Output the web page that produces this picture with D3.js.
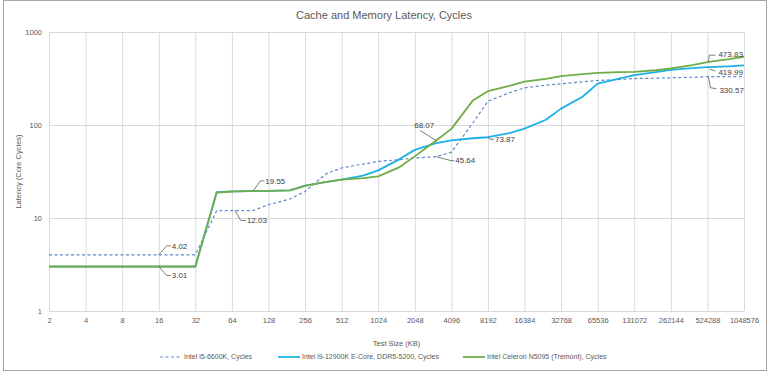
<!DOCTYPE html>
<html>
<head>
<meta charset="utf-8">
<script src="https://cdn.jsdelivr.net/npm/d3@7"></script>
<style>
  body { margin: 0; background: #fff; }
  svg { font-family: "Liberation Sans", Arial, sans-serif; }
</style>
</head>
<body>
<div class="chart"></div>
<script>
// test sizes in KB
const sizes = [2,4,8,12,16,24,32,48,64,96,128,192,256,384,512,768,1024,1536,2048,3072,4096,6144,8192,12288,16384,24576,32768,49152,65536,98304,131072,196608,262144,393216,524288,786432,1048576]

const i5 = [4.02,4.02,4.02,4.02,4.02,4.02,4.02,12.0,12.03,12.03,13.9,16,19.3,30,34.5,38,40.6,42.4,44.2,45.64,51,105,180,222,251,268,277,291,301,308,316,319,322,326,330.57,331,332]
const i9e = [3,3,3,3,3,3,3,19,19.3,19.5,19.6,19.8,22.3,24.5,25.9,28.5,32.5,43,54,64,68.4,72,73.87,82,91.5,114,150,201,279,316,343,370,392,408,419.99,428,437]
const tremont = [3.01,3.01,3.01,3.01,3.01,3.01,3.01,18.8,19.2,19.55,19.6,19.8,22.2,24.4,25.8,26.9,28,35.3,46,68.07,90.8,183,231,263,292,314,335,352,364,370,373,388,405,440,473.83,510,542]

const seriesNames = ["Intel i5-6600K, Cycles", "Intel i9-12900K E-Core, DDR5-5200, Cycles", "Intel Celeron N5095 (Tremont), Cycles"]
const xTicks = [2,4,8,16,32,64,128,256,512,1024,2048,4096,8192,16384,32768,65536,131072,262144,524288,1048576]
const yTicks = [1,10,100,1000]

const W = 768, H = 371
const margin = {left: 49, right: 744, top: 32, bottom: 311}

const svg = d3.select(".chart").append("svg")
  .attr("width", W)
  .attr("height", H)

svg.append("rect")
  .attr("x", 3.5).attr("y", 0.5)
  .attr("width", W - 5).attr("height", H - 1)
  .attr("fill", "#fff")
  .attr("stroke", "#a6a6a6")

let xScale = d3.scaleLog().base(2).domain([2, 1048576]).range([margin.left, margin.right])
let yScale = d3.scaleLog().domain([1, 1000]).range([margin.bottom, margin.top])

let xAxis = d3.axisBottom(xScale)
  .tickValues(xTicks)
  .tickFormat(d3.format("d"))
  .tickSize(-(margin.bottom - margin.top))
  .tickPadding(7)
let yAxis = d3.axisLeft(yScale)
  .tickValues(yTicks)
  .tickFormat(d3.format("d"))
  .tickSize(-(margin.right - margin.left))
  .tickPadding(7)

svg.append("g")
  .attr("transform", `translate(0,${margin.bottom})`)
  .call(xAxis)
  .call(g => g.select(".domain").remove())
  .call(g => g.selectAll(".tick line").attr("stroke", "#d9d9d9"))
  .call(g => g.selectAll(".tick text").attr("fill", "#595959").attr("font-size", "7.5px"))

svg.append("g")
  .attr("transform", `translate(${margin.left},0)`)
  .call(yAxis)
  .call(g => g.select(".domain").remove())
  .call(g => g.selectAll(".tick line").attr("stroke", "#d9d9d9"))
  .call(g => g.selectAll(".tick text").attr("fill", "#595959").attr("font-size", "7.5px"))

svg.append("text")
  .attr("x", W / 2).attr("y", 19)
  .attr("text-anchor", "middle")
  .attr("font-size", "11px")
  .attr("fill", "#595959")
  .text("Cache and Memory Latency, Cycles")

svg.append("text")
  .attr("x", (margin.left + margin.right) / 2).attr("y", 346)
  .attr("text-anchor", "middle")
  .attr("font-size", "7.5px")
  .attr("fill", "#595959")
  .text("Test Size (KB)")

svg.append("text")
  .attr("transform", `translate(21,${(margin.top + margin.bottom) / 2}) rotate(-90)`)
  .attr("text-anchor", "middle")
  .attr("font-size", "7.5px")
  .attr("fill", "#595959")
  .text("Latency (Core Cycles)")

const series = [
  {name: seriesNames[0], values: i5, color: "#5f87cc", width: 1.2, dash: "3,2.5"},
  {name: seriesNames[1], values: i9e, color: "#1eb0e6", width: 1.8, dash: null},
  {name: seriesNames[2], values: tremont, color: "#70ad47", width: 1.8, dash: null}
]

const line = d3.line()
  .x((d, i) => xScale(sizes[i]))
  .y(d => yScale(d))

svg.append("g").selectAll("path")
  .data(series)
  .enter()
  .append("path")
  .attr("d", d => line(d.values))
  .attr("fill", "none")
  .attr("stroke", d => d.color)
  .attr("stroke-width", d => d.width)
  .attr("stroke-dasharray", d => d.dash)
  .attr("stroke-linejoin", "round")

// data labels: series index, size, leader path offsets, text offset
const labels = [
  {s: 0, size: 16, pts: [[0,0],[8,-9],[12,-9]], tx: 13, ty: -9},
  {s: 2, size: 16, pts: [[0,0],[8,9],[12,9]], tx: 13, ty: 9},
  {s: 0, size: 64, pts: [[3,0],[9,10],[14,10]], tx: 15, ty: 10},
  {s: 2, size: 96, pts: [[0,0],[7,-10],[11,-10]], tx: 12, ty: -10},
  {s: 2, size: 3072, pts: [[0,0],[-16,-10]], tx: -22, ty: -15},
  {s: 0, size: 3072, pts: [[0,0],[15,4],[18,4]], tx: 19, ty: 4},
  {s: 1, size: 8192, pts: [[0,0],[2,2],[6,2]], tx: 7, ty: 2},
  {s: 2, size: 524288, pts: [[1,0],[2,-7],[8,-7]], tx: 11, ty: -8},
  {s: 1, size: 524288, pts: [[2,2],[8,4]], tx: 11, ty: 5},
  {s: 0, size: 524288, pts: [[1,0],[3,11],[9,12]], tx: 12, ty: 13}
]

const lab = svg.append("g").selectAll("g")
  .data(labels)
  .enter()
  .append("g")
  .attr("transform", d => {
    const i = sizes.indexOf(d.size)
    return `translate(${xScale(d.size)},${yScale(series[d.s].values[i])})`
  })

lab.append("path")
  .attr("d", d => d3.line()(d.pts))
  .attr("fill", "none")
  .attr("stroke", "#595959")
  .attr("stroke-width", 0.8)

lab.append("text")
  .attr("x", d => d.tx)
  .attr("y", d => d.ty)
  .attr("dy", "0.35em")
  .attr("font-size", "8px")
  .attr("fill", "#404040")
  .text(d => {
    const i = sizes.indexOf(d.size)
    return series[d.s].values[i].toFixed(2)
  })

// legend
const legendX = [160, 278, 463]
const leg = svg.append("g").selectAll("g")
  .data(series)
  .enter()
  .append("g")
  .attr("transform", (d, i) => `translate(${legendX[i]},357)`)

leg.append("line")
  .attr("x1", 0).attr("x2", 22)
  .attr("stroke", d => d.color)
  .attr("stroke-width", d => d.width)
  .attr("stroke-dasharray", d => d.dash)

leg.append("text")
  .attr("x", 24)
  .attr("dy", "0.35em")
  .attr("font-size", "7px")
  .attr("fill", "#595959")
  .text(d => d.name)
</script>
</body>
</html>
